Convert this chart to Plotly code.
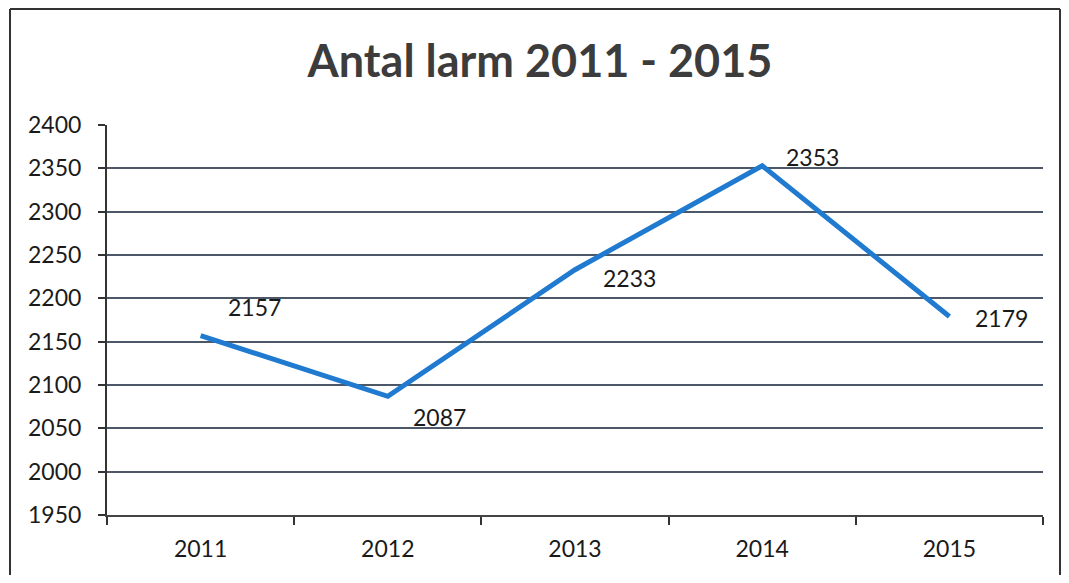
import plotly.graph_objects as go

years = ["2011", "2012", "2013", "2014", "2015"]
larm = [2157, 2087, 2233, 2353, 2179]
# label offsets (px) relative to each point, mimicking Excel "right" labels
label_dx = [54, 52, 54, 50, 52]
label_dy = [-29, 21, 8, -9, 1]

O = 8  # page body margin offset
L, R, T, B = 107 - O, 1043 - O, 125 - O, 515 - O
W, H = 1069 - 2 * O, 583 - 2 * O
pw, ph = R - L, B - T
FONT = "Lato, Carlito, sans-serif"

fig = go.Figure()
fig.add_trace(go.Scatter(
    x=years, y=larm, mode="lines",
    line=dict(color="#1f7ad0", width=5),
    showlegend=False, hoverinfo="x+y",
))
for i, (yv, dx, dy) in enumerate(zip(larm, label_dx, label_dy)):
    fig.add_annotation(x=i, y=yv, text=str(yv), showarrow=False,
                       xshift=dx, yshift=-dy,
                       font=dict(family=FONT, size=23, color="#1a1a1a"))

fig.update_layout(
    width=W, height=H,
    margin=dict(l=L, r=W - R, t=T, b=H - B, autoexpand=False),
    paper_bgcolor="white", plot_bgcolor="white",
    title=dict(text="<b>Antal larm 2011 - 2015</b>", x=(540 - O - L) / pw, xref="paper",
               xanchor="center", y=1 - (61 - O) / H, yanchor="middle", automargin=False,
               font=dict(family=FONT, size=45, color="#3c3c3c")),
    font=dict(family=FONT, size=23, color="#1a1a1a"),
)
fig.update_xaxes(type="category", categoryarray=years, range=[-0.5, len(years) - 0.5],
                 tickson="boundaries", ticks="outside", ticklen=8,
                 tickwidth=2, tickcolor="#333", showline=True, linecolor="#444",
                 linewidth=2, showgrid=False, ticklabelstandoff=12, automargin=False)
fig.update_yaxes(range=[1950, 2400], dtick=50, ticks="outside", ticklen=7,
                 tickwidth=2, tickcolor="#333", showline=True, linecolor="#333",
                 linewidth=2, showgrid=True, gridcolor="#4c5868", gridwidth=1.5,
                 zeroline=False, ticklabelstandoff=12, automargin=False)

# outer chart frame (left, top, right edges)
fx0 = (10 - O - L) / pw
fx1 = (1060 - O - L) / pw
fy_top = (B - 1) / ph
fy_bot = (B - H - 5) / ph
for x0, y0, x1, y1 in [(fx0, fy_bot, fx0, fy_top), (fx0, fy_top, fx1, fy_top),
                       (fx1, fy_top, fx1, fy_bot)]:
    fig.add_shape(type="line", xref="paper", yref="paper", x0=x0, y0=y0, x1=x1, y1=y1,
                  line=dict(color="#333", width=2), layer="above")
fig.write_html("out.html")
